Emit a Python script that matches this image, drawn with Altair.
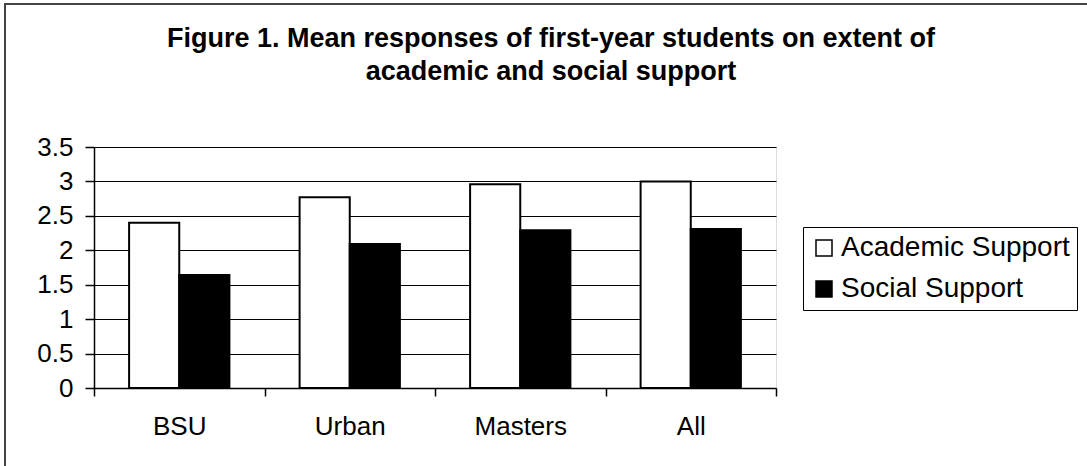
import altair as alt
import pandas as pd

categories = ["BSU", "Urban", "Masters", "All"]
academic = [2.4, 2.77, 2.96, 3.0]
social = [1.64, 2.09, 2.29, 2.31]
series = ["Academic Support", "Social Support"]

rows = []
for i, c in enumerate(categories):
    rows.append({"cat": c, "series": series[0], "value": academic[i]})
    rows.append({"cat": c, "series": series[1], "value": social[i]})
df = pd.DataFrame(rows)

FONT = "Liberation Sans"

bars = alt.Chart(df).mark_bar(stroke="black", strokeWidth=2).encode(
    x=alt.X("cat:N", sort=categories, title=None,
            scale=alt.Scale(paddingInner=0, paddingOuter=0),
            axis=alt.Axis(labelAngle=0, tickBand="extent", tickSize=8,
                          labelPadding=17, labelFontSize=26, labelFont=FONT,
                          labelColor="black", domainColor="black", tickColor="black",
                          domainWidth=1.5, tickWidth=1.5, grid=False)),
    xOffset=alt.XOffset("series:N", sort=series,
                        scale=alt.Scale(paddingInner=0, paddingOuter=0.7)),
    y=alt.Y("value:Q", title=None,
            scale=alt.Scale(domain=[0, 3.5], nice=False),
            axis=alt.Axis(values=[0, 0.5, 1, 1.5, 2, 2.5, 3, 3.5], format="~g",
                          tickSize=9, labelPadding=12, labelFontSize=26, labelFont=FONT,
                          labelColor="black", domainColor="black", tickColor="black",
                          gridColor="black", gridWidth=1.2, gridOpacity=1,
                          domainWidth=1.5, tickWidth=1.5)),
    color=alt.Color("series:N", sort=series,
                    scale=alt.Scale(domain=series, range=["white", "black"]),
                    legend=alt.Legend(title=None, orient="none", legendX=709, legendY=80,
                                      symbolType="square", symbolSize=256,
                                      symbolStrokeColor="black", symbolStrokeWidth=1.5,
                                      labelFontSize=28, labelFont=FONT, labelColor="black",
                                      labelOffset=3, rowPadding=13, padding=7,
                                      strokeColor="black", fillColor="white",
                                      labelLimit=400)),
)

frame_data = alt.Data(values=[{"k": 1}])
left_rule = alt.Chart(frame_data).mark_rule(color="#444", strokeWidth=2).encode(
    x=alt.value(-89), y=alt.value(-143), y2=alt.value(330))
top_rule = alt.Chart(frame_data).mark_rule(color="#444", strokeWidth=2).encode(
    x=alt.value(-90), x2=alt.value(1000), y=alt.value(-143))

chart = alt.layer(bars, left_rule, top_rule).properties(
    width=682, height=241,
    autosize=alt.AutoSizeParams(type="none"),
    padding={"left": 94, "top": 147, "right": 311, "bottom": 78},
    title=alt.TitleParams(
        text=["Figure 1. Mean responses of first-year students on extent of",
              "academic and social support"],
        font=FONT, fontSize=27, fontWeight="bold", color="black",
        anchor="middle", frame="group", dx=116, offset=-104,
        baseline="alphabetic", lineHeight=33),
).configure_view(stroke="black", strokeWidth=1.5).configure(background="white")

chart.save("out.html", embed_options={"renderer": "svg", "actions": False})
